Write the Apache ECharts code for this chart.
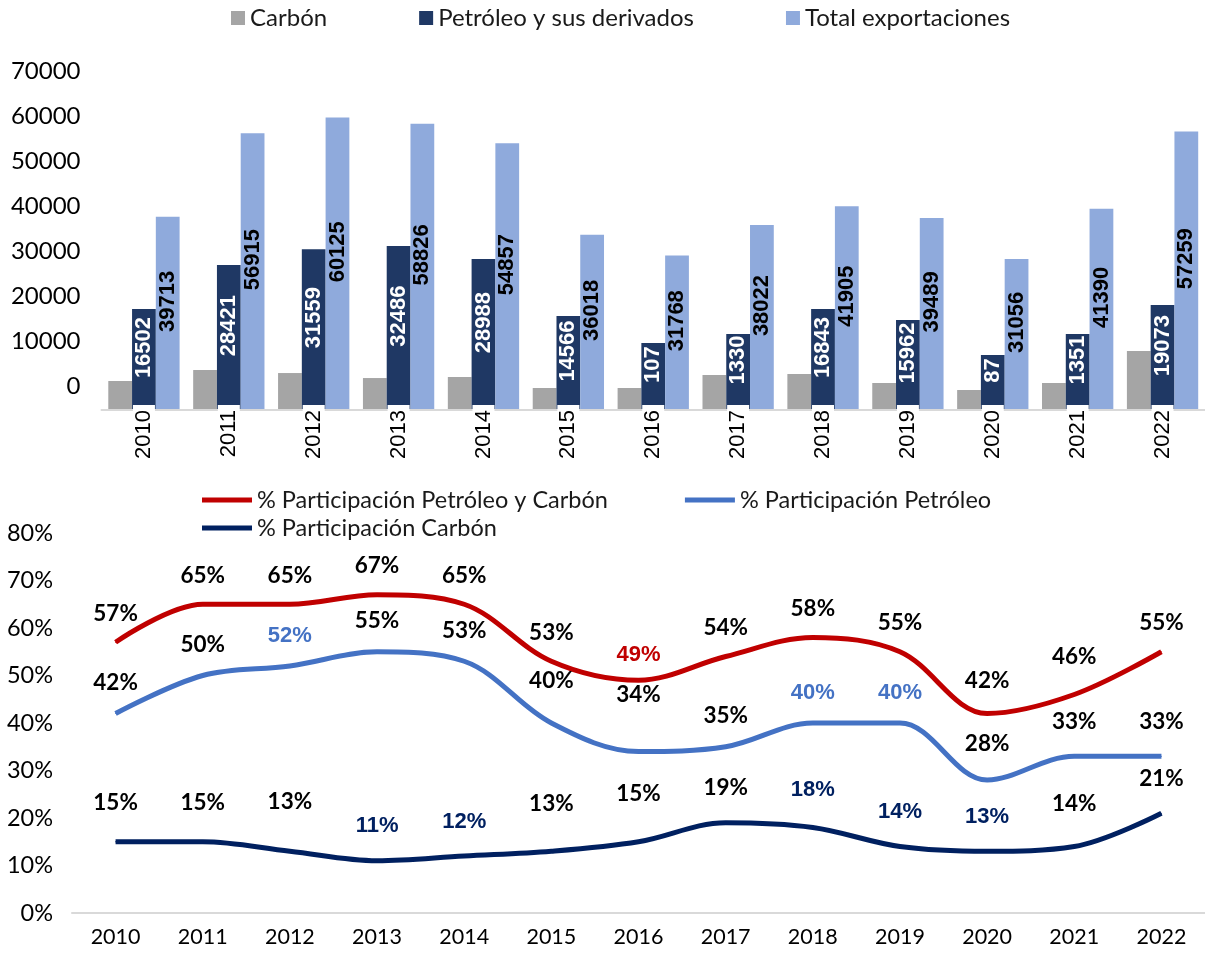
<!DOCTYPE html>
<html>
<head>
<meta charset="utf-8">
<title>Exportaciones</title>
<script src="https://cdn.jsdelivr.net/npm/echarts@6/dist/echarts.min.js"></script>
<style>
  html, body { margin: 0; padding: 0; background: #fff; }
  #chart { width: 1205px; height: 953px; }
</style>
</head>
<body>
<div id="chart"></div>
<script>
// datos
const years = ['2010', '2011', '2012', '2013', '2014', '2015', '2016', '2017', '2018', '2019', '2020', '2021', '2022'];
const carbon = [5960, 8220, 7600, 6570, 6780, 4520, 4520, 7190, 7400, 5550, 4110, 5550, 12120];
const petroleo = [20750, 29790, 33070, 33690, 31020, 19310, 13760, 15610, 20750, 18490, 11300, 15610, 21570];
const petroleoLabels = ['16502', '28421', '31559', '32486', '28988', '14566', '107', '1330', '16843', '15962', '87', '1351', '19073'];
const totalExport = [39713, 56915, 60125, 58826, 54857, 36018, 31768, 38022, 41905, 39489, 31056, 41390, 57259];

const partPetCarbon = [57, 65, 65, 67, 65, 53, 49, 54, 58, 55, 42, 46, 55];
const partPetroleo = [42, 50, 52, 55, 53, 40, 34, 35, 40, 40, 28, 33, 33];
const partCarbon = [15, 15, 13, 11, 12, 13, 15, 19, 18, 14, 13, 14, 21];

// etiquetas en color (indices)
const hlPetCarbon = [6];
const hlPetroleo = [2, 8, 9];
const hlCarbon = [3, 4, 8, 9, 10];

// ajuste manual de la altura de algunas etiquetas (px extra)
const liftPetCarbon = { 6: -3, 10: 4, 11: 9 };
const liftPetroleo = { 5: 11, 6: 26, 10: 5, 11: 4, 12: 4 };
const liftCarbon = { 0: 4, 1: 4, 2: 15, 5: 13, 6: 13, 8: 3, 11: 8 };

const RED = '#C00000', BLUE = '#4472C4', NAVY = '#002060';
const txtFont = 'Lato, "Noto Sans", sans-serif';
const arialFont = '"Liberation Sans", Arial, sans-serif';

function pctData(values, hl, color, lift, dist) {
  return values.map((v, i) => {
    const item = { value: v, label: { distance: dist + (lift[i] || 0) } };
    if (hl.indexOf(i) >= 0) {
      item.label.color = color;
      item.label.fontFamily = arialFont;
      item.label.fontSize = 22;
    }
    return item;
  });
}

function lineSeries(name, values, hl, color, lift, dist) {
  return {
    name: name,
    type: 'line',
    xAxisIndex: 2,
    yAxisIndex: 2,
    smooth: 0.35,
    symbol: 'circle',
    symbolSize: 1,
    itemStyle: { color: color },
    lineStyle: { color: color, width: 5 },
    data: pctData(values, hl, color, lift, dist),
    label: {
      show: true,
      position: 'top',
      formatter: '{c}%',
      color: '#000',
      fontFamily: txtFont,
      fontWeight: 'bold',
      fontSize: 22.5
    }
  };
}

const chart = echarts.init(document.getElementById('chart'));

const option = {
  animation: false,
  backgroundColor: '#fff',
  legend: [
    {
      data: ['Carbón', 'Petróleo y sus derivados', 'Total exportaciones'],
      left: 231,
      top: 6,
      padding: 0,
      icon: 'rect',
      itemWidth: 14,
      itemHeight: 14,
      itemGap: 92,
      textStyle: { fontFamily: txtFont, fontSize: 24, color: '#1a1a1a' }
    },
    {
      data: ['% Participación Petróleo y Carbón', '% Participación Petróleo'],
      left: 202,
      top: 488,
      padding: 0,
      icon: 'rect',
      itemWidth: 50,
      itemHeight: 5,
      itemGap: 77,
      textStyle: { fontFamily: txtFont, fontSize: 23.5, color: '#1a1a1a' }
    },
    {
      data: ['% Participación Carbón'],
      left: 202,
      top: 516,
      padding: 0,
      icon: 'rect',
      itemWidth: 50,
      itemHeight: 5,
      textStyle: { fontFamily: txtFont, fontSize: 23.5, color: '#1a1a1a' }
    }
  ],
  grid: [
    { left: 101.5, width: 1104, top: 69.5, height: 340.5 },
    { left: 101.5, width: 1104, top: 71, height: 315 },
    { left: 72, width: 1140, top: 533, height: 380 }
  ],
  xAxis: [
    {
      type: 'category',
      gridIndex: 0,
      data: years,
      zlevel: 1,
      axisLine: { lineStyle: { color: '#d9d9d9', width: 2 } },
      axisTick: { show: false },
      axisLabel: {
        rotate: 90,
        margin: -5,
        padding: [0, 5],
        backgroundColor: '#fff',
        fontFamily: arialFont,
        fontSize: 22,
        color: '#000'
      }
    },
    { type: 'category', gridIndex: 1, data: years, show: false },
    {
      type: 'category',
      gridIndex: 2,
      data: years,
      axisLine: { lineStyle: { color: '#d9d9d9', width: 2 } },
      axisTick: { show: false },
      axisLabel: { margin: 13, fontFamily: txtFont, fontSize: 21.5, color: '#000' }
    }
  ],
  yAxis: [
    { type: 'value', gridIndex: 0, min: 0, max: 70000, show: false },
    {
      type: 'value',
      gridIndex: 1,
      min: 0,
      max: 70000,
      interval: 10000,
      splitLine: { show: false },
      axisLine: { show: false },
      axisTick: { show: false },
      axisLabel: {
        margin: 21,
        formatter: v => String(v),
        fontFamily: txtFont,
        fontSize: 24,
        color: '#000'
      }
    },
    {
      type: 'value',
      gridIndex: 2,
      min: 0,
      max: 80,
      interval: 10,
      splitLine: { show: false },
      axisLine: { show: false },
      axisTick: { show: false },
      axisLabel: { margin: 19, formatter: '{value}%', fontFamily: txtFont, fontSize: 23.5, color: '#000' }
    }
  ],
  series: [
    {
      name: 'Carbón',
      type: 'bar',
      xAxisIndex: 0,
      yAxisIndex: 0,
      data: carbon,
      barGap: '0%',
      barCategoryGap: '16%',
      itemStyle: { color: '#A5A5A5' }
    },
    {
      name: 'Petróleo y sus derivados',
      type: 'bar',
      xAxisIndex: 0,
      yAxisIndex: 0,
      data: petroleo,
      itemStyle: { color: '#1F3864' },
      label: {
        show: true,
        position: 'inside',
        rotate: 90,
        offset: [12, 0],
        formatter: p => petroleoLabels[p.dataIndex],
        color: '#fff',
        fontFamily: arialFont,
        fontWeight: 'bold',
        fontSize: 22
      }
    },
    {
      name: 'Total exportaciones',
      type: 'bar',
      xAxisIndex: 0,
      yAxisIndex: 0,
      data: totalExport,
      itemStyle: { color: '#8FAADC' },
      label: {
        show: true,
        position: 'inside',
        rotate: 90,
        offset: [12, 0],
        color: '#000',
        fontFamily: arialFont,
        fontWeight: 'bold',
        fontSize: 22
      }
    },
    lineSeries('% Participación Petróleo y Carbón', partPetCarbon, hlPetCarbon, RED, liftPetCarbon, 17),
    lineSeries('% Participación Petróleo', partPetroleo, hlPetroleo, BLUE, liftPetroleo, 19),
    lineSeries('% Participación Carbón', partCarbon, hlCarbon, NAVY, liftCarbon, 23)
  ]
};

chart.setOption(option);
</script>
</body>
</html>
